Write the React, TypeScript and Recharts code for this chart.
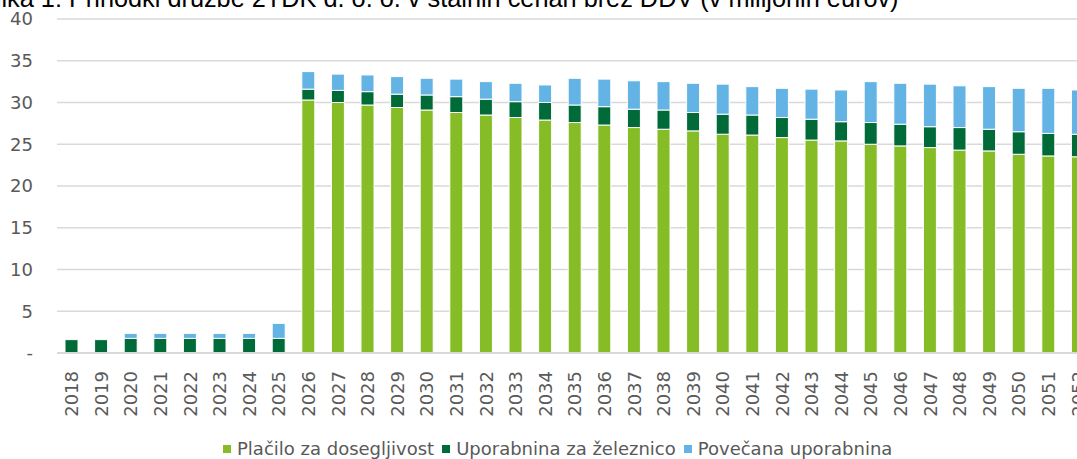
import React from "react";
import { BarChart, Bar, XAxis, YAxis, CartesianGrid } from "recharts";

const years = [
  "2018", "2019", "2020", "2021", "2022", "2023", "2024", "2025", "2026", "2027",
  "2028", "2029", "2030", "2031", "2032", "2033", "2034", "2035", "2036", "2037",
  "2038", "2039", "2040", "2041", "2042", "2043", "2044", "2045", "2046", "2047",
  "2048", "2049", "2050", "2051", "2052",
];

const placilo = [
  0, 0, 0, 0, 0, 0, 0, 0, 30.3, 30.0,
  29.7, 29.4, 29.1, 28.8, 28.5, 28.2, 27.9, 27.6, 27.3, 27.0,
  26.8, 26.6, 26.2, 26.1, 25.8, 25.5, 25.4, 25.0, 24.8, 24.6,
  24.3, 24.2, 23.8, 23.6, 23.5,
];

const zeleznica = [
  1.6, 1.6, 1.75, 1.75, 1.75, 1.75, 1.75, 1.75, 1.3, 1.45,
  1.6, 1.6, 1.8, 1.9, 1.9, 1.9, 2.1, 2.1, 2.2, 2.2,
  2.3, 2.2, 2.4, 2.4, 2.4, 2.5, 2.3, 2.6, 2.6, 2.5,
  2.7, 2.6, 2.7, 2.7, 2.7,
];

const povecana = [
  0, 0, 0.6, 0.6, 0.6, 0.6, 0.6, 1.8, 2.1, 1.95,
  2.0, 2.1, 2.0, 2.1, 2.1, 2.2, 2.1, 3.2, 3.3, 3.4,
  3.4, 3.5, 3.6, 3.4, 3.5, 3.6, 3.8, 4.9, 4.9, 5.1,
  5.0, 5.1, 5.2, 5.4, 5.3,
];

const yTicks = [0, 5, 10, 15, 20, 25, 30, 35, 40];

const seriesNames = ["Plačilo za dosegljivost", "Uporabnina za železnico", "Povečana uporabnina"];
const colors = ["#86BC25", "#006A38", "#63B4E4"];

const titleText = "Slika 1: Prihodki družbe 2TDK d. o. o. v stalnih cenah brez DDV (v milijonih eurov)";

const data = years.map((y, i) => ({
  year: y,
  placilo: placilo[i],
  zeleznica: zeleznica[i],
  povecana: povecana[i],
}));

const FONT = "'DejaVu Sans', Verdana, sans-serif";
const TXT = "#595959";

const XTick = (props: any) => {
  const { x, y, payload } = props;
  return (
    <text
      x={x}
      y={y}
      transform={`rotate(-90, ${x}, ${y})`}
      textAnchor="end"
      dy="0.36em"
      fill={TXT}
      fontSize={18}
      fontFamily={FONT}
    >
      {payload.value}
    </text>
  );
};

export default function App() {
  return (
    <div
      style={{
        position: "absolute",
        left: 0,
        top: 0,
        width: 1077,
        height: 459,
        overflow: "hidden",
        background: "#fff",
      }}
    >
      <div
        style={{
          position: "absolute",
          left: -21,
          top: -14,
          fontFamily: "'Liberation Sans', Arial, sans-serif",
          fontSize: 25.3,
          lineHeight: "25px",
          color: "#000",
          whiteSpace: "nowrap",
        }}
      >
        {titleText}
      </div>
      <BarChart
        width={1110}
        height={459}
        data={data}
        margin={{ top: 19, right: 17, left: 0, bottom: 46 }}
        barSize={13}
      >
        <CartesianGrid vertical={false} stroke="#d9d9d9" strokeWidth={1.5} />
        <XAxis
          dataKey="year"
          interval={0}
          height={60}
          tickLine={false}
          axisLine={{ stroke: "#d9d9d9", strokeWidth: 2 }}
          tick={<XTick />}
          tickMargin={12}
        />
        <YAxis
          width={57}
          domain={[0, 40]}
          ticks={yTicks}
          interval={0}
          axisLine={false}
          tickLine={false}
          tickSize={0}
          tickMargin={24}
          tickFormatter={(v: number) => (v === 0 ? "-" : String(v))}
          tick={{ fill: TXT, fontSize: 18, fontFamily: FONT }}
        />
        <Bar dataKey="placilo" stackId="a" fill={colors[0]} stroke="#ffffff" strokeWidth={1} isAnimationActive={false} />
        <Bar dataKey="zeleznica" stackId="a" fill={colors[1]} stroke="#ffffff" strokeWidth={1} isAnimationActive={false} />
        <Bar dataKey="povecana" stackId="a" fill={colors[2]} stroke="#ffffff" strokeWidth={1} isAnimationActive={false} />
      </BarChart>
      <div
        style={{
          position: "absolute",
          left: 223,
          top: 438,
          display: "flex",
          alignItems: "center",
          fontFamily: FONT,
          fontSize: 18,
          lineHeight: "22px",
          color: TXT,
          whiteSpace: "nowrap",
        }}
      >
        {seriesNames.map((n, i) => (
          <div key={n} style={{ display: "flex", alignItems: "center", marginRight: 8 }}>
            <span style={{ display: "inline-block", width: 8, height: 8, background: colors[i], marginRight: 6 }} />
            <span>{n}</span>
          </div>
        ))}
      </div>
    </div>
  );
}
